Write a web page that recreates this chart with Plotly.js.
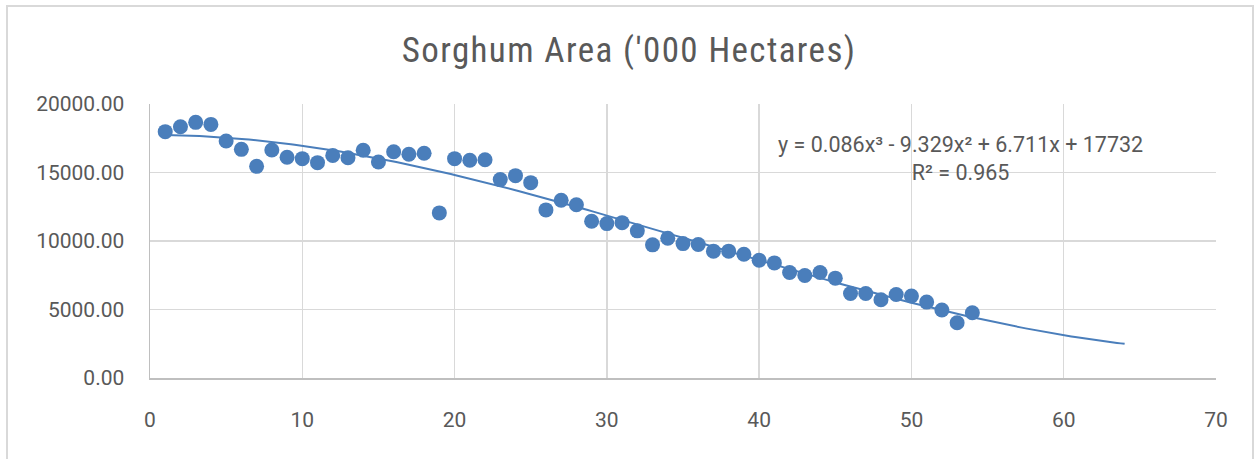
<!DOCTYPE html>
<html>
<head>
<meta charset="utf-8">
<script src="https://cdn.plot.ly/plotly-3.0.1.min.js"></script>
<style>
  html, body { margin: 0; padding: 0; background: #ffffff; overflow: hidden; }
  #chart { position: absolute; left: 0; top: 0; width: 1258px; height: 459px; }
  #frame { position: absolute; left: 6px; top: 5px; width: 1248px; height: 470px;
           border: 2px solid #d9d9d9; pointer-events: none; box-sizing: border-box; }
  .gtitle { letter-spacing: 1.4px; }
</style>
</head>
<body>
<div id="chart"></div>
<div id="frame"></div>
<script>
// Data
const xValues = [1,2,3,4,5,6,7,8,9,10,11,12,13,14,15,16,17,18,19,20,21,22,23,24,25,26,27,
                 28,29,30,31,32,33,34,35,36,37,38,39,40,41,42,43,44,45,46,47,48,49,50,51,52,53,54];
const areaValues = [17980,18340,18660,18510,17300,16690,15450,16640,16110,16010,15720,16250,16080,16620,15770,16520,16330,16400,12050,16010,
                    15890,15930,14480,14770,14260,12270,12970,12650,11440,11270,11340,10740,9720,10200,9810,9740,9260,9260,9030,8600,
                    8400,7700,7480,7700,7290,6170,6170,5710,6090,5980,5540,4960,4030,4760];

// Polynomial trendline (order 3) as printed on the chart
const trendCoef = [0.086, -9.329, 6.711, 17732]; // x^3, x^2, x, const
const trendStart = 1, trendEnd = 64;
const trendText = "y = 0.086x³ - 9.329x² + 6.711x + 17732<br>R² = 0.965";
const titleText = "Sorghum Area ('000 Hectares)";

const tx = [], ty = [];
for (let x = trendStart; x <= trendEnd + 1e-9; x += 0.25) {
  tx.push(x);
  ty.push(((trendCoef[0] * x + trendCoef[1]) * x + trendCoef[2]) * x + trendCoef[3]);
}

const blue = '#4a7ebb';
const txtColor = '#595959';
const tickFont = { family: 'Roboto, "Liberation Sans", sans-serif', size: 21, color: txtColor };

const data = [
  { x: tx, y: ty, type: 'scatter', mode: 'lines', line: { color: blue, width: 2 }, hoverinfo: 'skip', showlegend: false },
  { x: xValues, y: areaValues, type: 'scatter', mode: 'markers',
    marker: { color: blue, size: 15, line: { width: 0 } }, showlegend: false }
];

const layout = {
  width: 1258, height: 459,
  margin: { l: 150, r: 42, t: 104, b: 81, pad: 0 },
  paper_bgcolor: '#ffffff', plot_bgcolor: '#ffffff',
  title: { text: titleText, x: 0.5, xanchor: 'center', y: 1 - 50 / 459, yanchor: 'middle', yref: 'container',
           font: { family: '"Liberation Sans Narrow", "Roboto Condensed", sans-serif', size: 35, color: txtColor } },
  xaxis: {
    range: [0, 70], dtick: 10, tick0: 0, showgrid: true, gridcolor: '#d9d9d9', gridwidth: 1.5,
    zeroline: false, showline: true, linecolor: '#bfbfbf', linewidth: 1.5,
    ticks: '', tickfont: tickFont, ticklabelstandoff: 22
  },
  yaxis: {
    range: [0, 20000], dtick: 5000, tick0: 0, tickformat: '.2f', showgrid: true, gridcolor: '#d9d9d9', gridwidth: 1.5,
    zeroline: false, showline: true, linecolor: '#bfbfbf', linewidth: 1.5,
    ticks: '', tickfont: tickFont, ticklabelstandoff: 20
  },
  annotations: [{
    text: trendText, xref: 'x', yref: 'y', x: 53.2, y: 16000, xanchor: 'center', yanchor: 'middle',
    showarrow: false, align: 'center',
    font: { family: 'Roboto, "Liberation Sans", sans-serif', size: 21.5, color: txtColor }
  }]
};

Plotly.newPlot('chart', data, layout, { staticPlot: true, displayModeBar: false });
</script>
</body>
</html>
